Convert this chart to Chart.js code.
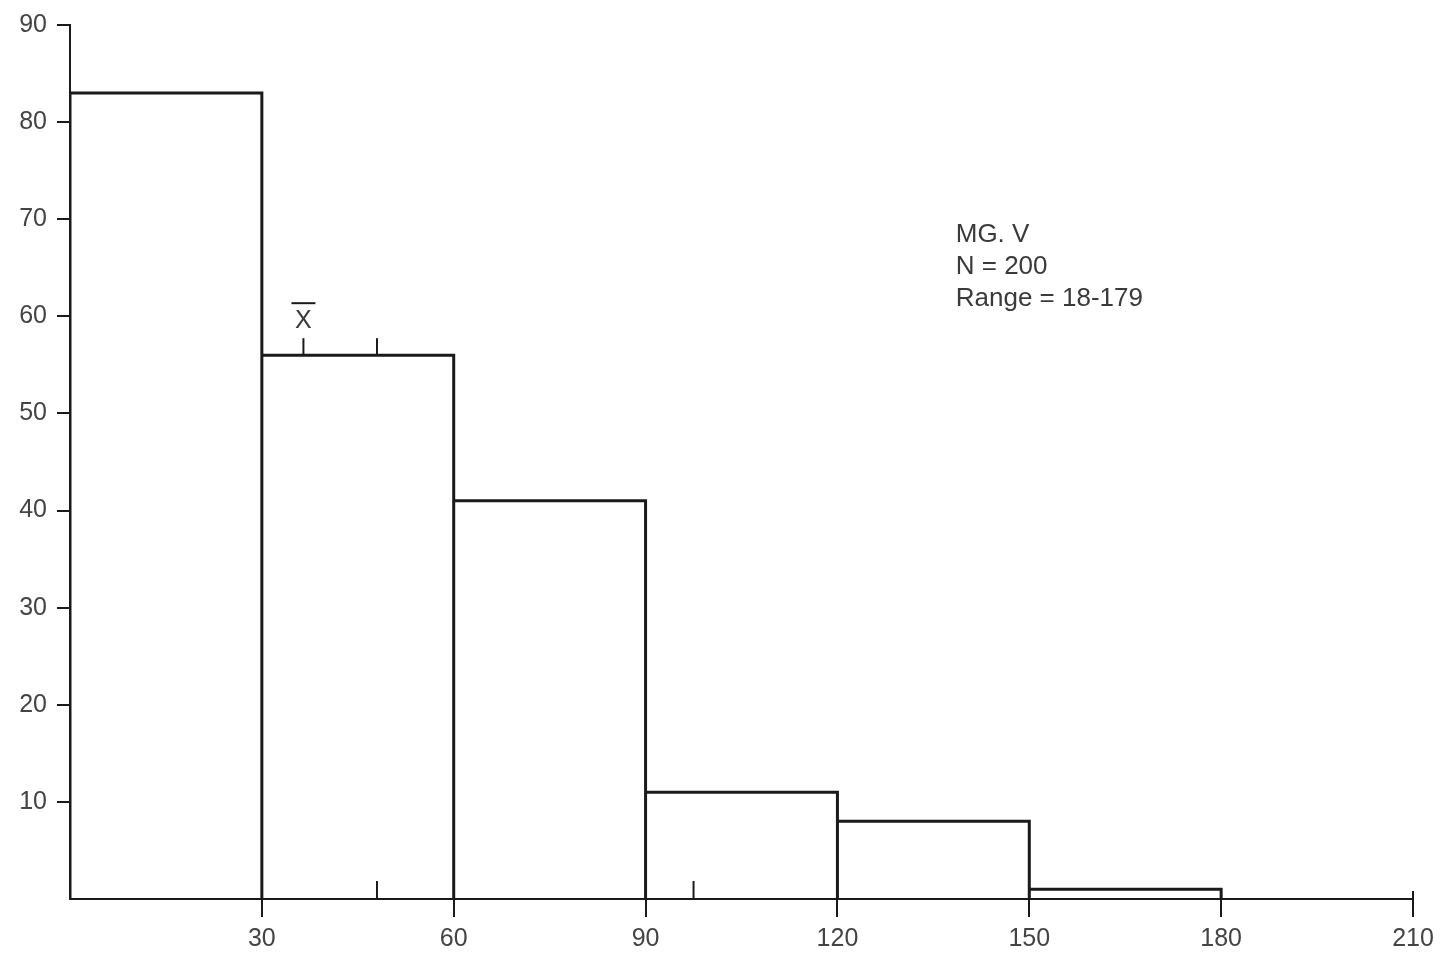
<!DOCTYPE html>
<html>
<head>
    <meta charset="UTF-8">
    <title>MG. V histogram</title>
    <script src="https://cdn.jsdelivr.net/npm/chart.js"></script>
    <style>
        html, body { margin: 0; padding: 0; background: #fff; }
        #wrap { width: 1443px; height: 953px; }
    </style>
</head>
<body>
<div id="wrap"><canvas id="histChart"></canvas></div>

<script>
    // data
    var binStarts = [0, 30, 60, 90, 120, 150];
    var binWidth = 30;
    var counts = [83, 56, 41, 11, 8, 1];
    var xTicks = [30, 60, 90, 120, 150, 180, 210];
    var yTicks = [10, 20, 30, 40, 50, 60, 70, 80, 90];
    var meanValue = 36.5;
    var topMarks = [36.5, 48];
    var bottomMarks = [48, 97.5];
    var noteLines = ['MG. V', 'N = 200', 'Range = 18-179'];
    var notePos = { x: 138.5, y: 68.4 };

    var ink = '#1a1a1a';
    var fontFamily = 'Liberation Sans, Arial, sans-serif';
    var labelFont = { family: fontFamily, size: 25 };

    // outline of the histogram: up, across, down to the axis for each bin
    var outline = [];
    binStarts.forEach(function (start, i) {
        outline.push({ x: start, y: 0 });
        outline.push({ x: start, y: counts[i] });
        outline.push({ x: start + binWidth, y: counts[i] });
        outline.push({ x: start + binWidth, y: 0 });
    });

    // mean and other markers plus the note block
    var markerPlugin = {
        id: 'markers',
        afterDatasetsDraw: function (chart) {
            var ctx = chart.ctx;
            var xs = chart.scales.x, ys = chart.scales.y;
            ctx.save();
            ctx.strokeStyle = ink;
            ctx.lineWidth = 2;

            // small ticks standing on top of the second bin
            var binTop = ys.getPixelForValue(counts[1]);
            topMarks.forEach(function (v) {
                var px = xs.getPixelForValue(v);
                ctx.beginPath();
                ctx.moveTo(px, binTop);
                ctx.lineTo(px, binTop - 17);
                ctx.stroke();
            });
            // small ticks standing on the axis
            var base = ys.getPixelForValue(0);
            bottomMarks.forEach(function (v) {
                var px = xs.getPixelForValue(v);
                ctx.beginPath();
                ctx.moveTo(px, base);
                ctx.lineTo(px, base - 18);
                ctx.stroke();
            });

            // end tick of the x axis sticks up a little
            var endX = xs.getPixelForValue(xs.max);
            ctx.beginPath();
            ctx.moveTo(endX, base);
            ctx.lineTo(endX, base - 8);
            ctx.stroke();

            // x-bar label
            var mx = xs.getPixelForValue(meanValue);
            ctx.fillStyle = '#3a3a3a';
            ctx.font = '25px ' + fontFamily;
            ctx.textAlign = 'center';
            ctx.textBaseline = 'middle';
            ctx.fillText('X', mx, binTop - 34);
            ctx.beginPath();
            ctx.moveTo(mx - 12, binTop - 52);
            ctx.lineTo(mx + 12, binTop - 52);
            ctx.stroke();

            // note block
            ctx.font = '26px ' + fontFamily;
            ctx.textAlign = 'left';
            var nx = xs.getPixelForValue(notePos.x);
            var ny = ys.getPixelForValue(notePos.y);
            noteLines.forEach(function (line, i) {
                ctx.fillText(line, nx, ny + i * 32);
            });
            ctx.restore();
        }
    };

    var chart = new Chart('histChart', {
        type: 'line',
        data: {
            datasets: [{
                data: outline,
                borderColor: ink,
                borderWidth: 3,
                pointRadius: 0,
                tension: 0,
                fill: false,
                borderJoinStyle: 'miter'
            }]
        },
        options: {
            responsive: true,
            maintainAspectRatio: false,
            animation: false,
            layout: { padding: { top: 22, right: 30, left: 0, bottom: 0 } },
            plugins: {
                legend: { display: false },
                tooltip: { enabled: false }
            },
            scales: {
                x: {
                    type: 'linear',
                    min: 0,
                    max: 210,
                    afterBuildTicks: function (scale) {
                        scale.ticks = xTicks.map(function (v) { return { value: v }; });
                    },
                    afterFit: function (scale) { scale.height = 54; },
                    grid: { drawOnChartArea: false, drawTicks: true, tickLength: 18, color: ink, lineWidth: 2 },
                    border: { display: true, color: ink, width: 2 },
                    ticks: { color: '#444', font: labelFont, padding: 7, maxRotation: 0, autoSkip: false }
                },
                y: {
                    min: 0,
                    max: 90,
                    afterBuildTicks: function (scale) {
                        scale.ticks = yTicks.map(function (v) { return { value: v }; });
                    },
                    afterFit: function (scale) { scale.width = 70; },
                    grid: { drawOnChartArea: false, drawTicks: true, tickLength: 13, color: ink, lineWidth: 2 },
                    border: { display: true, color: ink, width: 2 },
                    ticks: { color: '#444', font: labelFont, padding: 10 }
                }
            }
        },
        plugins: [markerPlugin]
    });
</script>

</body>
</html>
